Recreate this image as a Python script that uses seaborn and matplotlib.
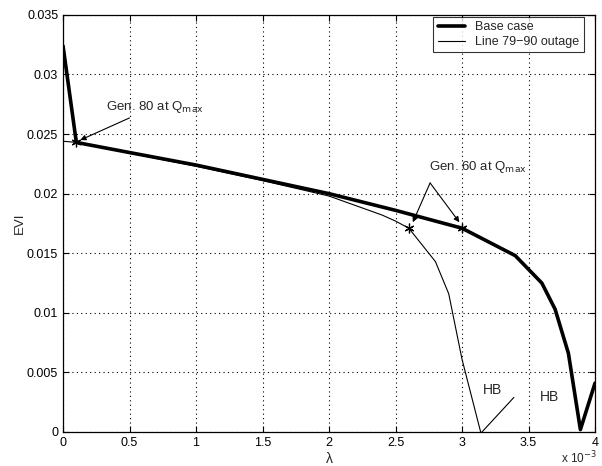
import matplotlib
matplotlib.use("Agg")
import matplotlib.pyplot as plt
import seaborn as sns
import pandas as pd

# lambda in units of 1e-3
base_lam = [0.0, 0.1, 0.5, 1.0, 1.5, 2.0, 2.5, 3.0, 3.4, 3.6, 3.7, 3.8, 3.89, 4.0]
base_evi = [0.0324, 0.0243, 0.02345, 0.0224, 0.0212, 0.0200, 0.0186, 0.0171, 0.0148, 0.0125, 0.0103, 0.0066, 0.0002, 0.0041]

out_lam = [0.0, 0.1, 0.5, 1.0, 1.5, 2.0, 2.4, 2.5, 2.6, 2.8, 2.9, 3.0, 3.14]
out_evi = [0.0244, 0.0243, 0.0234, 0.0223, 0.0211, 0.0198, 0.0182, 0.0177, 0.0171, 0.0143, 0.0116, 0.0061, 0.0]

star_lam = [0.1, 3.0, 2.6]
star_evi = [0.0243, 0.0171, 0.0171]

sns.set_style("ticks")
plt.rcParams['font.family'] = ['Liberation Sans', 'DejaVu Sans']
plt.rcParams['font.size'] = 9

fig = plt.figure(figsize=(6.02, 4.66), dpi=100)
ax = fig.add_axes([0.1047, 0.073, 0.8837, 0.895])

df_base = pd.DataFrame({'lam': base_lam, 'evi': base_evi})
df_out = pd.DataFrame({'lam': out_lam, 'evi': out_evi})

sns.lineplot(data=df_base, x='lam', y='evi', color='black', linewidth=2.6,
             label='Base case', ax=ax, sort=False)
sns.lineplot(data=df_out, x='lam', y='evi', color='black', linewidth=0.8,
             label='Line 79\u221290 outage', ax=ax, sort=False)
ax.plot(star_lam, star_evi, linestyle='none', marker=(6, 2, 0), markersize=7,
        color='black', markeredgewidth=0.9)

ax.set_xlim(0, 4)
ax.set_ylim(0, 0.035)
ax.set_xticks([0, 0.5, 1, 1.5, 2, 2.5, 3, 3.5, 4])
ax.set_xticklabels(['0', '0.5', '1', '1.5', '2', '2.5', '3', '3.5', '4'])
ax.set_yticks([0, 0.005, 0.01, 0.015, 0.02, 0.025, 0.03, 0.035])
ax.set_yticklabels(['0', '0.005', '0.01', '0.015', '0.02', '0.025', '0.03', '0.035'])
ax.tick_params(direction='in', top=True, right=True, length=4, width=0.8,
               labelsize=9, colors='black')
ax.grid(True, color='black', linestyle=(0, (1, 3)), linewidth=0.8)
for s in ax.spines.values():
    s.set_color('black')
    s.set_linewidth(0.9)

ax.set_xlabel('\u03bb', fontsize=10, labelpad=2)
ax.set_ylabel('EVI', fontsize=9.5, labelpad=1)

# annotations
ax.annotate('Gen. 80 at Q$_{\\mathrm{max}}$', xy=(0.13, 0.0245), xytext=(0.32, 0.0273),
            fontsize=9.5, va='center',
            arrowprops=dict(arrowstyle='-|>', color='black', lw=0.8, shrinkA=0, shrinkB=0,
                            mutation_scale=8))
ax.text(2.75, 0.0222, 'Gen. 60 at Q$_{\\mathrm{max}}$', fontsize=9.5, va='center')
for tx, ty in [(2.63, 0.0176), (2.98, 0.0176)]:
    ax.annotate('', xy=(tx, ty), xytext=(2.76, 0.0209),
                arrowprops=dict(arrowstyle='-|>', color='black', lw=0.8, shrinkA=0,
                                shrinkB=0, mutation_scale=8))
ax.annotate('', xy=(3.15, 0.0), xytext=(3.39, 0.0029),
            arrowprops=dict(arrowstyle='-', color='black', lw=0.8, shrinkA=0, shrinkB=0))
ax.text(3.23, 0.0035, 'HB', fontsize=10, ha='center', va='center')
ax.text(3.66, 0.0029, 'HB', fontsize=10, ha='center', va='center')
fig.text(0.992, 0.036, 'x 10$^{-3}$', fontsize=8.5, ha='right', va='top')

leg = ax.legend(loc='upper right', bbox_to_anchor=(0.979, 0.996), fontsize=9,
                frameon=True, fancybox=False, borderaxespad=0, handlelength=2.2,
                borderpad=0.35, labelspacing=0.25)
leg.get_frame().set_edgecolor('black')
leg.get_frame().set_linewidth(0.8)

fig.savefig('out.png', dpi=100, facecolor='white')
